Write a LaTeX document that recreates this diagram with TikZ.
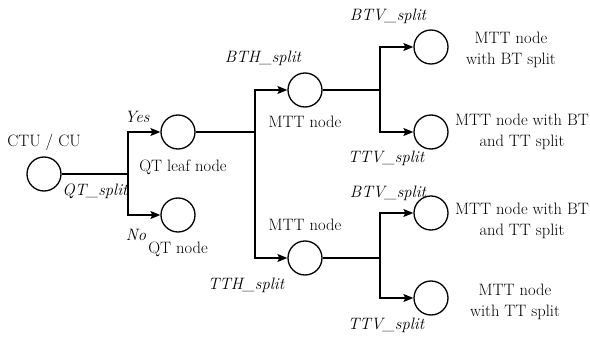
\documentclass[tikz,border=0pt]{standalone}
\usetikzlibrary{arrows.meta}
\begin{document}
\begin{tikzpicture}[x=1pt,y=-1pt,
  circ/.style={circle,draw,line width=1.3pt,minimum size=34pt,inner sep=0pt},
  lbl/.style={font=\fontsize{16.5}{21}\selectfont,inner sep=0pt,align=center},
  ilbl/.style={font=\fontsize{16.5}{20}\selectfont\itshape,inner sep=0pt},
  conn/.style={line width=1.3pt},
  arr/.style={line width=1.3pt,-{Stealth[length=10pt,width=8pt,inset=2pt]}}]
\useasboundingbox (0,0) rectangle (590,337);
% circles
\node[circ] (ctu) at (44,174) {};
\node[circ] (qtleaf) at (178,132) {};
\node[circ] (qt) at (178,215) {};
\node[circ] (mtt1) at (305,90) {};
\node[circ] (mtt2) at (305,258) {};
\node[circ] (a1) at (431,47) {};
\node[circ] (a2) at (431,132) {};
\node[circ] (b1) at (431,213) {};
\node[circ] (b2) at (431,298) {};
% junctions
\coordinate (j1) at (128,174);
\coordinate (j2) at (255,132);
\coordinate (j3) at (380,90);
\coordinate (j4) at (380,258);
% connectors
\draw[conn] (ctu) -- (j1);
\draw[arr] (j1) |- (qtleaf);
\draw[arr] (j1) |- (qt);
\draw[conn] (qtleaf) -- (j2);
\draw[arr] (j2) |- (mtt1);
\draw[arr] (j2) |- (mtt2);
\draw[conn] (mtt1) -- (j3);
\draw[arr] (j3) |- (a1);
\draw[arr] (j3) |- (a2);
\draw[conn] (mtt2) -- (j4);
\draw[arr] (j4) |- (b1);
\draw[arr] (j4) |- (b2);
% labels
\node[lbl] (tctu) at (44,142) {CTU / CU};
\node[ilbl] (tqts) at (95,191) {QT\_split};
\node[ilbl] (tyes) at (137,117) {Yes};
\node[ilbl] (tno) at (136,235) {No};
\node[lbl] (tqtleaf) at (183,167) {QT leaf node};
\node[lbl] (tqt) at (178,249) {QT node};
\node[ilbl] (tbth) at (263,58) {BTH\_split};
\node[lbl] (tmtt1) at (305,122) {MTT node};
\node[ilbl] (tbtv1) at (388,16) {BTV\_split};
\node[ilbl] (tttv1) at (386,158) {TTV\_split};
\node[lbl] (ta1) at (511,50) {MTT node\\with BT split};
\node[lbl] (ta2) at (522,132) {MTT node with BT\\and TT split};
\node[lbl] (tmtt2) at (305,225) {MTT node};
\node[ilbl] (ttth) at (246,285) {TTH\_split};
\node[ilbl] (tbtv2) at (388,193) {BTV\_split};
\node[ilbl] (tttv2) at (386,325) {TTV\_split};
\node[lbl] (tb1) at (522,221) {MTT node with BT\\and TT split};
\node[lbl] (tb2) at (515,302) {MTT node\\with TT split};
\end{tikzpicture}
\end{document}
